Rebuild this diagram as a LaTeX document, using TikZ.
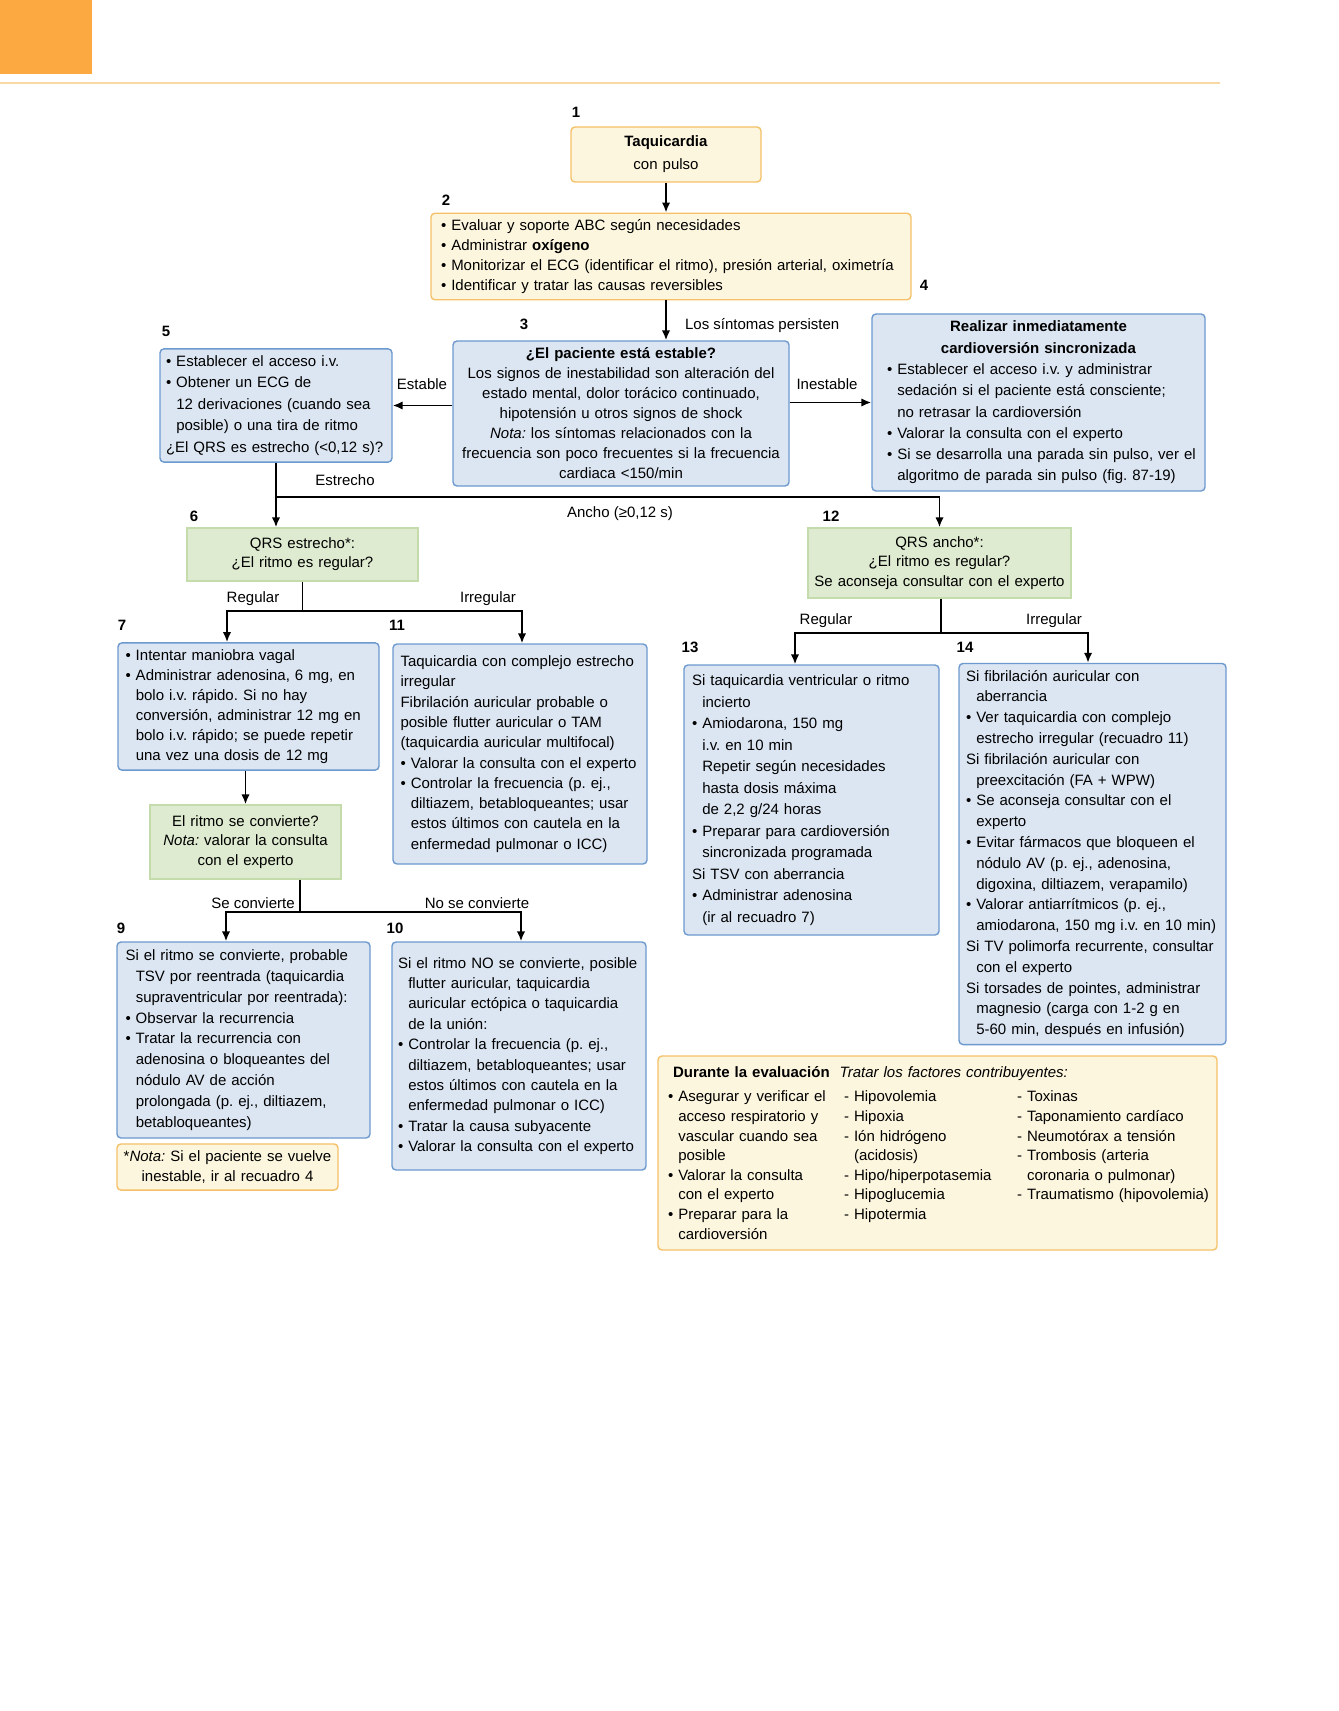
\documentclass[tikz,border=0pt]{standalone}
\usepackage{fontspec}
\setmainfont{Liberation Sans}
\usetikzlibrary{arrows.meta, positioning, calc}
\definecolor{taborange}{RGB}{252,169,66}
\definecolor{ruleorange}{RGB}{247,217,165}
\definecolor{notecream}{RGB}{253,246,222}
\definecolor{noteedge}{RGB}{244,192,104}
\definecolor{stepblue}{RGB}{220,230,243}
\definecolor{stepedge}{RGB}{108,153,206}
\definecolor{askgreen}{RGB}{222,235,208}
\definecolor{askedge}{RGB}{196,220,172}

\newcommand{\bul}[1]{\mbox{\textbullet\ #1}}
\newcommand{\hng}[1]{\mbox{\phantom{\textbullet\ }#1}}
\newcommand{\pln}[1]{\mbox{#1}}
\newcommand{\dsh}[1]{\mbox{- #1}}
\newcommand{\dhg}[1]{\mbox{\phantom{- }#1}}

\begin{document}
\frenchspacing
\begin{tikzpicture}[x=0.5pt, y=-0.5pt,
    every node/.style={font=\fontsize{7.5}{10.3}\selectfont},
    notebox/.style={draw=noteedge, fill=notecream, line width=0.7pt, rounded corners=2pt},
    stepbox/.style={draw=stepedge, fill=stepblue, line width=0.7pt, rounded corners=2pt},
    askbox/.style={draw=askedge, fill=askgreen, line width=0.7pt, align=center},
    sized/.style n args={4}{minimum width=#1, minimum height=#2, inner xsep=#3, text width=#4},
    num/.style={font=\fontsize{7.5}{9}\selectfont\bfseries},
    link/.style={line width=0.9pt},
    arr/.style={line width=0.9pt, -{Latex[length=5pt,width=4.2pt]}}]
    \useasboundingbox (0,0) rectangle (1338,1711);

    % page header
    \fill[taborange] (0,0) rectangle (92,74);
    \draw[ruleorange, line width=1pt] (0,83) -- (1220,83);

    % 1 - 2: entry
    \node[num] (n1) at (576,112) {1};
    \node[notebox, sized={95pt}{27.5pt}{3pt}{89pt}, align=center, font=\fontsize{7.5}{11.5}\selectfont] (b1) at (666,154.5)
        {\textbf{Taquicardia}\\con pulso};
    \node[num] (n2) at (446,200) {2};
    \node[notebox, sized={240pt}{42.5pt}{5pt}{230pt}, align=left, font=\fontsize{7.5}{9.85}\selectfont] (b2) at (671,256.5)
        {\bul{Evaluar y soporte ABC según necesidades}\\
         \bul{Administrar \textbf{oxígeno}}\\
         \bul{Monitorizar el ECG (identificar el ritmo), presión arterial, oximetría}\\
         \bul{Identificar y tratar las causas reversibles}};

    % 3 - 5: stable or not
    \node[num] (n3) at (524,324) {3};
    \node[stepbox, sized={168pt}{72.5pt}{3pt}{162pt}, align=center, font=\fontsize{7.5}{10}\selectfont] (b3) at (621,413.5)
        {\textbf{¿El paciente está estable?}\\
         \pln{Los signos de inestabilidad son alteración del}\\
         \pln{estado mental, dolor torácico continuado,}\\
         \pln{hipotensión u otros signos de shock}\\
         \pln{\textit{Nota:} los síntomas relacionados con la}\\
         \pln{frecuencia son poco frecuentes si la frecuencia}\\
         \pln{cardiaca <150/min}};
    \node[num] (n4) at (924,285) {4};
    \node[stepbox, sized={166.5pt}{88.5pt}{7.5pt}{151.5pt}, align=left, font=\fontsize{7.5}{10.65}\selectfont] (b4) at (1038.5,402.5)
        {{\centering\textbf{Realizar inmediatamente}\\\textbf{cardioversión sincronizada}\par}
         \bul{Establecer el acceso i.v. y administrar}\\
         \hng{sedación si el paciente está consciente;}\\
         \hng{no retrasar la cardioversión}\\
         \bul{Valorar la consulta con el experto}\\
         \bul{Si se desarrolla una parada sin pulso, ver el}\\
         \hng{algoritmo de parada sin pulso (fig. 87-19)}};
    \node[num] (n5) at (166,331) {5};
    \node[stepbox, sized={116pt}{56.5pt}{3pt}{110pt}, align=left, font=\fontsize{7.5}{10.75}\selectfont] (b5) at (276,405.5)
        {\bul{Establecer el acceso i.v.}\\
         \bul{Obtener un ECG de}\\
         \hng{12 derivaciones (cuando sea}\\
         \hng{posible) o una tira de ritmo}\\
         \pln{¿El QRS es estrecho (<0,12 s)?}};

    % 6 and 12: QRS width
    \node[num] (n6) at (194,516) {6};
    \node[askbox, sized={115.5pt}{26.5pt}{3pt}{109.5pt}, font=\fontsize{7.5}{9.6}\selectfont] (b6) at (302.5,554.5)
        {\pln{QRS estrecho*:}\\\pln{¿El ritmo es regular?}};
    \node[num] (n12) at (831,516) {12};
    \node[askbox, sized={131.5pt}{35pt}{2pt}{127.5pt}, font=\fontsize{7.5}{9.8}\selectfont] (b12) at (939.5,563)
        {\pln{QRS ancho*:}\\\pln{¿El ritmo es regular?}\\\pln{Se aconseja consultar con el experto}};

    % 7, 8, 11: narrow QRS
    \node[num] (n7) at (122,625) {7};
    \node[stepbox, sized={130.5pt}{62.5pt}{3.75pt}{123pt}, align=left, font=\fontsize{7.5}{10}\selectfont] (b7) at (248.5,706.5)
        {\bul{Intentar maniobra vagal}\\
         \bul{Administrar adenosina, 6 mg, en}\\
         \hng{bolo i.v. rápido. Si no hay}\\
         \hng{conversión, administrar 12 mg en}\\
         \hng{bolo i.v. rápido; se puede repetir}\\
         \hng{una vez una dosis de 12 mg}};
    \node[num] (n11) at (397,625) {11};
    \node[stepbox, sized={127pt}{110pt}{3.75pt}{119.5pt}, align=left, font=\fontsize{7.5}{10.15}\selectfont] (b11) at (520,754)
        {\pln{Taquicardia con complejo estrecho}\\
         \pln{irregular}\\
         \pln{Fibrilación auricular probable o}\\
         \pln{posible flutter auricular o TAM}\\
         \pln{(taquicardia auricular multifocal)}\\
         \bul{Valorar la consulta con el experto}\\
         \bul{Controlar la frecuencia (p. ej.,}\\
         \hng{diltiazem, betabloqueantes; usar}\\
         \hng{estos últimos con cautela en la}\\
         \hng{enfermedad pulmonar o ICC)}};
    \node[askbox, sized={95.5pt}{37pt}{3pt}{89.5pt}, font=\fontsize{7.5}{9.75}\selectfont] (b8) at (245.5,842)
        {\pln{El ritmo se convierte?}\\\pln{\textit{Nota:} valorar la consulta}\\\pln{con el experto}};

    % 9 - 10: converts or not
    \node[num] (n9) at (121,928) {9};
    \node[stepbox, sized={126.5pt}{98pt}{4.25pt}{118pt}, align=left, font=\fontsize{7.5}{10.4}\selectfont] (b9) at (243.5,1040)
        {\pln{Si el ritmo se convierte, probable}\\
         \hng{TSV por reentrada (taquicardia}\\
         \hng{supraventricular por reentrada):}\\
         \bul{Observar la recurrencia}\\
         \bul{Tratar la recurrencia con}\\
         \hng{adenosina o bloqueantes del}\\
         \hng{nódulo AV de acción}\\
         \hng{prolongada (p. ej., diltiazem,}\\
         \hng{betabloqueantes)}};
    \node[notebox, sized={110.5pt}{23pt}{2pt}{106.5pt}, align=center, font=\fontsize{7.5}{10}\selectfont] (bnote) at (227.5,1167)
        {\pln{*\textit{Nota:} Si el paciente se vuelve}\\\pln{inestable, ir al recuadro 4}};
    \node[num] (n10) at (395,928) {10};
    \node[stepbox, sized={127pt}{114pt}{3pt}{121pt}, align=left, font=\fontsize{7.5}{10.2}\selectfont] (b10) at (519,1056)
        {\pln{Si el ritmo NO se convierte, posible}\\
         \hng{flutter auricular, taquicardia}\\
         \hng{auricular ectópica o taquicardia}\\
         \hng{de la unión:}\\
         \bul{Controlar la frecuencia (p. ej.,}\\
         \hng{diltiazem, betabloqueantes; usar}\\
         \hng{estos últimos con cautela en la}\\
         \hng{enfermedad pulmonar o ICC)}\\
         \bul{Tratar la causa subyacente}\\
         \bul{Valorar la consulta con el experto}};

    % 13 - 14: wide QRS
    \node[num] (n13) at (690,647) {13};
    \node[stepbox, sized={127.5pt}{135pt}{4pt}{119.5pt}, align=left, font=\fontsize{7.5}{10.75}\selectfont] (b13) at (811.5,800)
        {\pln{Si taquicardia ventricular o ritmo}\\
         \hng{incierto}\\
         \bul{Amiodarona, 150 mg}\\
         \hng{i.v. en 10 min}\\
         \hng{Repetir según necesidades}\\
         \hng{hasta dosis máxima}\\
         \hng{de 2,2 g/24 horas}\\
         \bul{Preparar para cardioversión}\\
         \hng{sincronizada programada}\\
         \pln{Si TSV con aberrancia}\\
         \bul{Administrar adenosina}\\
         \hng{(ir al recuadro 7)}};
    \node[num] (n14) at (965,647) {14};
    \node[stepbox, sized={133.5pt}{188pt}{3.5pt}{126.5pt}, align=left, font=\fontsize{7.5}{10.4}\selectfont] (b14) at (1092.5,854)
        {\pln{Si fibrilación auricular con}\\
         \hng{aberrancia}\\
         \bul{Ver taquicardia con complejo}\\
         \hng{estrecho irregular (recuadro 11)}\\
         \pln{Si fibrilación auricular con}\\
         \hng{preexcitación (FA + WPW)}\\
         \bul{Se aconseja consultar con el}\\
         \hng{experto}\\
         \bul{Evitar fármacos que bloqueen el}\\
         \hng{nódulo AV (p. ej., adenosina,}\\
         \hng{digoxina, diltiazem, verapamilo)}\\
         \bul{Valorar antiarrítmicos (p. ej.,}\\
         \hng{amiodarona, 150 mg i.v. en 10 min)}\\
         \pln{Si TV polimorfa recurrente, consultar}\\
         \hng{con el experto}\\
         \pln{Si torsades de pointes, administrar}\\
         \hng{magnesio (carga con 1-2 g en}\\
         \hng{5-60 min, después en infusión)}};

    % contributing factors
    \node[notebox, sized={279.5pt}{97pt}{5pt}{269.5pt}, align=left, font=\fontsize{7.5}{9.8}\selectfont] (bcause) at (937.5,1153)
        {\hspace*{2.5pt}\textbf{Durante la evaluación}\ \ \textit{Tratar los factores contribuyentes:}\par\vspace{2.2pt}
         \parbox[t]{88pt}{\bul{Asegurar y verificar el}\\
            \hng{acceso respiratorio y}\\
            \hng{vascular cuando sea}\\
            \hng{posible}\\
            \bul{Valorar la consulta}\\
            \hng{con el experto}\\
            \bul{Preparar para la}\\
            \hng{cardioversión}}%
         \parbox[t]{86.5pt}{\dsh{Hipovolemia}\\
            \dsh{Hipoxia}\\
            \dsh{Ión hidrógeno}\\
            \dhg{(acidosis)}\\
            \dsh{Hipo/hiperpotasemia}\\
            \dsh{Hipoglucemia}\\
            \dsh{Hipotermia}}%
         \parbox[t]{95pt}{\dsh{Toxinas}\\
            \dsh{Taponamiento cardíaco}\\
            \dsh{Neumotórax a tensión}\\
            \dsh{Trombosis (arteria}\\
            \dhg{coronaria o pulmonar)}\\
            \dsh{Traumatismo (hipovolemia)}}};

    % connectors, top part
    \draw[arr] (b1) -- (b1 |- b2.north);
    \draw[arr] (b1 |- b2.south) -- (b1 |- b3.north);
    \node[anchor=west] (lsint) at (678,326) {Los síntomas persisten};
    \draw[arr] (b3.west |- b5.east) -- (b5.east);
    \node (lest) at (422,384) {Estable};
    \draw[arr] (b3.east |- b4.west) -- (b4.west);
    \node (linest) at (827,384) {Inestable};

    % QRS split
    \coordinate (qrs) at (276,497);
    \draw[arr] (b5.south) -- (b5.south |- b6.north);
    \draw[arr] (qrs) -| (b12.north);
    \node (lnarrow) at (345,480) {Estrecho};
    \node (lwide) at (620,514) {Ancho (≥0,12 s)};

    % narrow branch
    \coordinate (reg6) at (302.5,611);
    \draw[link] (b6.south) -- (reg6);
    \draw[arr] (reg6) -| ([xshift=-10.75pt]b7.north);
    \draw[arr] (reg6) -| ([xshift=1pt]b11.north);
    \node (lreg6) at (253,599) {Regular};
    \node (lirr6) at (488,599) {Irregular};
    \draw[arr] (b8.north |- b7.south) -- (b8.north);

    % converts or not
    \coordinate (conv) at (300,912);
    \draw[link] (conv |- b8.south) -- (conv);
    \draw[arr] (conv) -| ([xshift=-8.75pt]b9.north);
    \draw[arr] (conv) -| ([xshift=1pt]b10.north);
    \node (lconv) at (253,903) {Se convierte};
    \node (lnoconv) at (477,903) {No se convierte};

    % wide branch
    \coordinate (reg12) at (941,633);
    \draw[link] (b12.south -| reg12) -- (reg12);
    \draw[arr] (reg12) -| ([xshift=-8.25pt]b13.north);
    \draw[arr] (reg12) -| ([xshift=-2.25pt]b14.north);
    \node (lreg12) at (826,621) {Regular};
    \node (lirr12) at (1054,621) {Irregular};
\end{tikzpicture}
\end{document}
